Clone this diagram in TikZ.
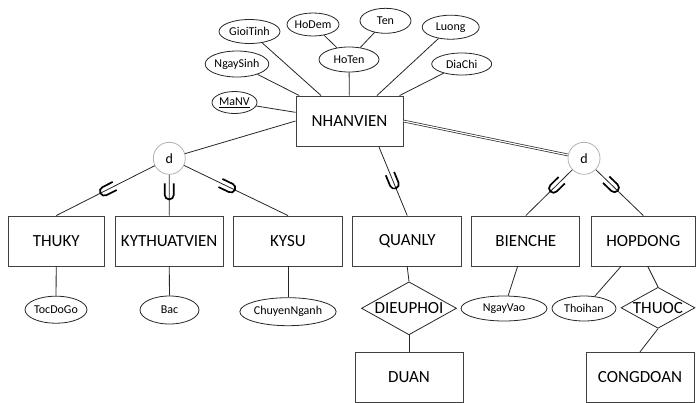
\documentclass[tikz,border=0pt]{standalone}
\usepackage{fontspec}
\setmainfont{Carlito}
\usetikzlibrary{shapes.geometric, decorations.markings}

\tikzset{
    entity/.style={draw=black!75, line width=0.9pt, minimum width=108pt, minimum height=50pt, inner sep=0pt, font=\fontsize{17}{20}\selectfont},
    attribute/.style={draw=black!85, line width=0.8pt, ellipse, inner sep=0pt, minimum height=23pt, font=\fontsize{12}{14}\selectfont},
    relationship/.style={draw=black!85, line width=0.8pt, diamond, inner sep=0pt, font=\fontsize{17}{20}\selectfont},
    disjoint/.style={draw=black!30, line width=0.8pt, circle, minimum size=32pt, inner sep=0pt, font=\fontsize{14}{16}\selectfont},
    link/.style={draw=black!85, line width=0.8pt},
    subset_link/.style={link, postaction={decorate}, decoration={markings, mark=at position #1 with {\draw[black, line width=1.7pt] (-8, -4.5) -- (3.5, -4.5) arc (-90:90:4.5) -- (-8, 4.5);}}}
}

\begin{document}
\begin{tikzpicture}[x=1pt, y=-1pt]
        \useasboundingbox (0, 0) rectangle (696, 402);

        \node (nhanvien) at (349.5, 121) [entity, minimum width=107pt] {NHANVIEN};

        \node (ma_nv) at (234.5, 102.5) [attribute, minimum width=45pt, minimum height=22pt] {\underline{MaNV}};
        \node (ngay_sinh) at (237, 64) [attribute, minimum width=60pt, minimum height=26pt] {NgaySinh};
        \node (gioi_tinh) at (249.5, 31.5) [attribute, minimum width=61pt, minimum height=24pt] {GioiTinh};
        \node (ho_dem) at (313, 24.5) [attribute, minimum width=52pt] {HoDem};
        \node (ten) at (385.5, 20.8) [attribute, minimum width=51pt, minimum height=25pt] {Ten};
        \node (luong) at (450.7, 27.2) [attribute, minimum width=57pt, minimum height=24pt] {Luong};
        \node (ho_ten) at (349, 59.5) [attribute, minimum width=60pt, minimum height=25pt] {HoTen};
        \node (dia_chi) at (461.7, 64) [attribute, minimum width=60pt, minimum height=22pt] {DiaChi};

        \draw[link] (ma_nv) -- (nhanvien);
        \draw[link] (ngay_sinh) -- (nhanvien);
        \draw[link] (gioi_tinh) -- (nhanvien);
        \draw[link] (ho_ten) -- (nhanvien);
        \draw[link] (luong) -- (nhanvien);
        \draw[link] (dia_chi) -- (nhanvien);
        \draw[link] (ho_dem) -- (ho_ten);
        \draw[link] (ten) -- (ho_ten);

        \node (disjoint_left) at (169.3, 158.3) [disjoint] {d};
        \node (disjoint_right) at (584, 158.3) [disjoint] {d};

        \node (thuky) at (56.3, 241) [entity, minimum width=96pt] {THUKY};
        \node (kythuatvien) at (169.2, 241) [entity] {KYTHUATVIEN};
        \node (kysu) at (288, 241) [entity, minimum width=108.6pt] {KYSU};
        \node (quanly) at (407.2, 241) [entity, minimum width=109pt] {QUANLY};
        \node (bienche) at (525.8, 241) [entity] {BIENCHE};
        \node (hopdong) at (643.3, 241) [entity, minimum width=104.5pt] {HOPDONG};

        \draw[link] (disjoint_left) -- (nhanvien.west);
        \draw[link, double, double distance=1.2pt, line width=0.7pt] (nhanvien.east) -- (disjoint_right);
        \draw[subset_link=0.48] (disjoint_left) -- (thuky.north);
        \draw[subset_link=0.41] (disjoint_left) -- (kythuatvien.north);
        \draw[subset_link=0.42] (disjoint_left) -- (kysu.north);
        \draw[subset_link=0.5] (nhanvien.-41) -- (quanly.north);
        \draw[subset_link=0.35] (disjoint_right) -- (bienche.north);
        \draw[subset_link=0.34] (disjoint_right) -- (hopdong.north);

        \node (toc_do_go) at (56, 309.7) [attribute, minimum width=60pt, minimum height=27pt] {TocDoGo};
        \node (bac) at (169.5, 310) [attribute, minimum width=59pt, minimum height=28pt] {Bac};
        \node (chuyen_nganh) at (288, 311.7) [attribute, minimum width=89pt, minimum height=28pt] {ChuyenNganh};
        \node (ngay_vao) at (504, 308.5) [attribute, minimum width=86pt, minimum height=25pt] {NgayVao};
        \node (thoi_han) at (584, 308.5) [attribute, minimum width=64pt, minimum height=25pt] {Thoihan};

        \node (dieuphoi) at (409, 308.3) [relationship, minimum width=95pt, minimum height=53pt] {\makebox[0pt]{DIEUPHOI}};
        \node (thuoc) at (658, 307.8) [relationship, minimum width=74pt, minimum height=41pt] {\makebox[0pt]{THUOC}};

        \node (duan) at (409, 377.3) [entity] {DUAN};
        \node (congdoan) at (640, 377.3) [entity] {CONGDOAN};

        \draw[link] (thuky) -- (toc_do_go);
        \draw[link] (kythuatvien) -- (bac);
        \draw[link] (kysu) -- (chuyen_nganh);
        \draw[link] (bienche) -- (ngay_vao);
        \draw[link] (hopdong) -- (thoi_han);
        \draw[link] (hopdong.-80) -- (thuoc.north);
        \draw[link] (quanly.south) -- (dieuphoi.north);
        \draw[link] (dieuphoi.south) -- (duan.north);
        \draw[link] (thuoc.south) -- (congdoan.north -| 640, 0);
\end{tikzpicture}
\end{document}
